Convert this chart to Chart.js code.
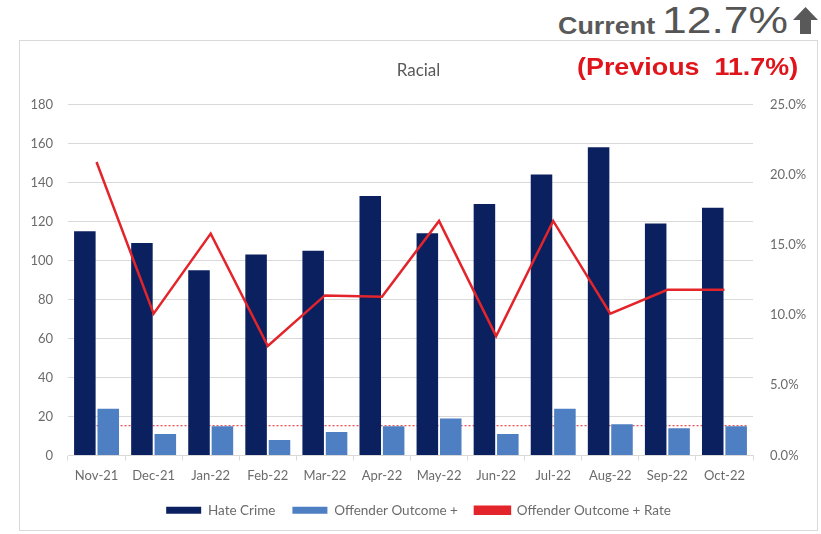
<!DOCTYPE html>
<html>
<head>
<meta charset="utf-8">
<script src="https://cdn.jsdelivr.net/npm/chart.js@4/dist/chart.umd.min.js"></script>
<style>
  html, body { margin: 0; padding: 0; background: #fff; }
  body { width: 821px; height: 534px; position: relative; overflow: hidden; font-family: Lato, "Liberation Sans", sans-serif; }
  .frame { position: absolute; left: 19px; top: 40px; width: 799px; height: 491px; border: 1px solid #d9d9d9; box-sizing: border-box; }
  .frame canvas { display: block; }
  .hdr { position: absolute; line-height: 1; white-space: pre; font-family: "Liberation Sans", Arial, sans-serif; transform-origin: left top; }
  .cur { left: 558px; top: 15px; font-size: 23px; font-weight: bold; color: #595959; transform: scaleX(1.17); }
  .val { left: 662px; top: 2px; font-size: 37px; color: #555; transform: scaleX(1.2); }
  .prev { left: 577px; top: 55px; font-size: 24px; font-weight: bold; color: #e0151b; transform: scaleX(1.12); }
  .arrow { position: absolute; left: 793px; top: 7px; }
</style>
</head>
<body>
<div class="frame"><canvas id="chart" width="797" height="489"></canvas></div>
<div class="hdr cur">Current</div>
<div class="hdr val">12.7%</div>
<svg class="arrow" width="25" height="27" viewBox="0 0 25 27"><polygon points="12.5,0 25,13 18,13 18,27 7,27 7,13 0,13" fill="#595959"/></svg>
<div class="hdr prev">(Previous  11.7%)</div>
<script>
const months = ['Nov-21', 'Dec-21', 'Jan-22', 'Feb-22', 'Mar-22', 'Apr-22', 'May-22', 'Jun-22', 'Jul-22', 'Aug-22', 'Sep-22', 'Oct-22'];
const hateCrime = [115, 109, 95, 103, 105, 133, 114, 129, 144, 158, 119, 127];
const offenderOutcome = [24, 11, 15, 8, 12, 15, 19, 11, 24, 16, 14, 15];
const outcomeRate = [0.209, 0.101, 0.158, 0.078, 0.114, 0.113, 0.167, 0.085, 0.167, 0.101, 0.118, 0.118];
const outcomeAverage = 15.3;

const grey = '#595959';
const tickGrey = '#6b6b6b';
const gridGrey = '#d9d9d9';

// dotted reference line across the plot
const averageLine = {
  id: 'averageLine',
  beforeDatasetsDraw(chart) {
    const {ctx, scales} = chart;
    const y = scales.y.getPixelForValue(outcomeAverage);
    ctx.save();
    ctx.strokeStyle = '#e8474b';
    ctx.lineWidth = 1.2;
    ctx.setLineDash([2, 2]);
    ctx.beginPath();
    ctx.moveTo(scales.x.getPixelForValue(0), y);
    ctx.lineTo(scales.x.getPixelForValue(months.length - 1) + 22, y);
    ctx.stroke();
    ctx.restore();
  },
};

const tickFont = {family: 'Lato', size: 13};

new Chart(document.getElementById('chart'), {
  type: 'bar',
  data: {
    labels: months,
    datasets: [
      {
        label: 'Hate Crime',
        data: hateCrime,
        backgroundColor: '#0b215f',
        yAxisID: 'y',
        order: 1,
        categoryPercentage: 0.82,
        barPercentage: 0.92,
      },
      {
        label: 'Offender Outcome +',
        data: offenderOutcome,
        backgroundColor: '#4d7fc2',
        yAxisID: 'y',
        order: 1,
        categoryPercentage: 0.82,
        barPercentage: 0.92,
      },
      {
        type: 'line',
        label: 'Offender Outcome + Rate',
        data: outcomeRate,
        borderColor: '#e3252b',
        backgroundColor: '#e3252b',
        borderWidth: 2.5,
        pointRadius: 0,
        tension: 0,
        yAxisID: 'y1',
        order: 0,
      },
    ],
  },
  options: {
    responsive: false,
    animation: false,
    layout: {padding: {bottom: 3}},
    plugins: {
      title: {
        display: true,
        text: 'Racial',
        color: grey,
        font: {family: 'Lato', size: 17, weight: 'normal'},
        padding: {top: 19, bottom: 24},
      },
      legend: {
        position: 'bottom',
        maxHeight: 44,
        labels: {
          sort: (a, b) => a.datasetIndex - b.datasetIndex,
          color: tickGrey,
          font: {family: 'Lato', size: 13.5},
          boxWidth: 35,
          boxHeight: 7,
          padding: 17,
        },
      },
      tooltip: {enabled: false},
    },
    scales: {
      x: {
        offset: true,
        grid: {display: true, drawOnChartArea: false, drawTicks: true, tickLength: 5, color: gridGrey},
        border: {color: gridGrey},
        ticks: {color: tickGrey, font: tickFont, padding: 8, maxRotation: 0},
        afterFit(scale) { scale.height = 31; },
      },
      y: {
        position: 'left',
        min: 0,
        max: 180,
        ticks: {stepSize: 20, color: tickGrey, font: tickFont, padding: 15},
        grid: {color: gridGrey, drawTicks: false},
        border: {display: false},
        afterFit(scale) { scale.width = 48; },
      },
      y1: {
        position: 'right',
        min: 0,
        max: 0.25,
        ticks: {
          stepSize: 0.05,
          color: tickGrey,
          font: tickFont,
          padding: 17,
          callback: value => (value * 100).toFixed(1) + '%',
        },
        grid: {display: false, drawTicks: false},
        border: {display: false},
        afterFit(scale) { scale.width = 64; },
      },
    },
  },
  plugins: [averageLine],
});
</script>
</body>
</html>
